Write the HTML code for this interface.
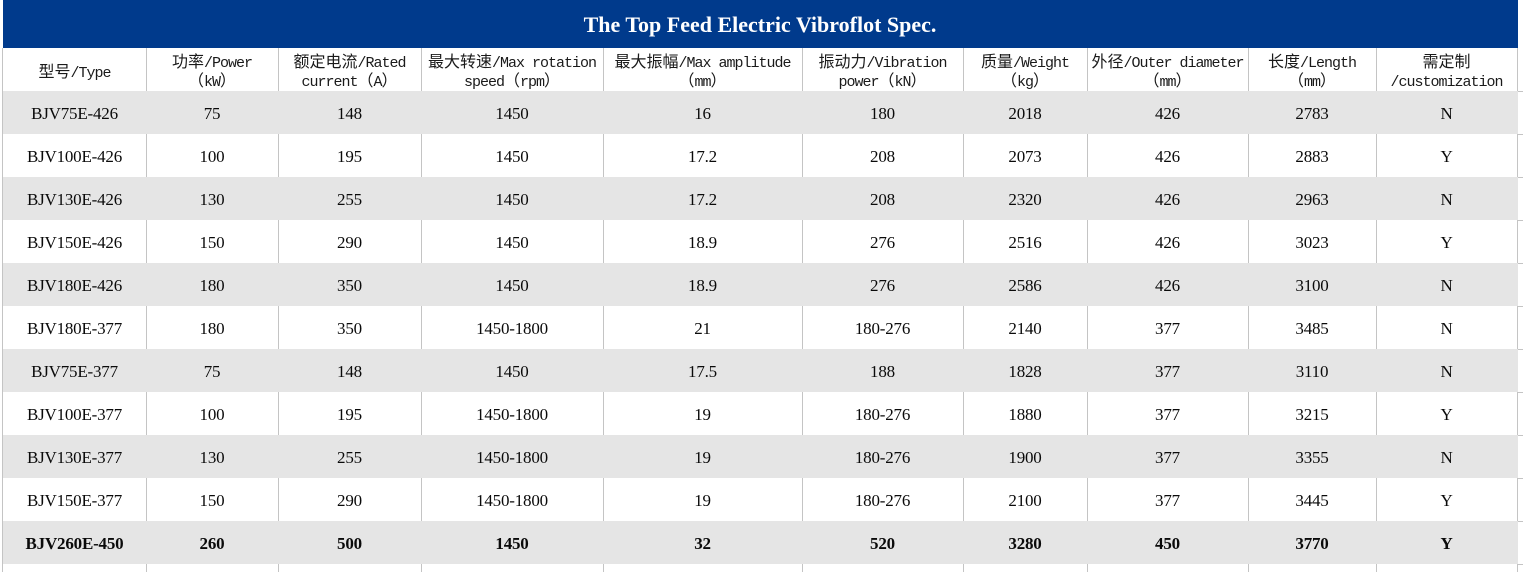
<!DOCTYPE html>
<html>
<head>
<meta charset="utf-8">
<style>
html,body{margin:0;padding:0;background:#fff;}
body{width:1523px;height:572px;overflow:hidden;}
svg{display:block;}
.d{font-family:"Liberation Serif","Noto Serif CJK SC",serif;font-size:17px;letter-spacing:-0.2px;fill:#0a0a0a;}
.b{font-weight:bold;}
.cj{font-family:"Noto Sans CJK SC","WenQuanYi Zen Hei",sans-serif;font-size:16px;letter-spacing:0;}
.mo{font-family:"Liberation Mono",monospace;font-size:15px;letter-spacing:-1px;}
.h{fill:#1a1a1a;}
</style>
</head>
<body>
<svg width="1523" height="572" viewBox="0 0 1523 572" xmlns="http://www.w3.org/2000/svg">
<rect x="0" y="0" width="1523" height="572" fill="#ffffff"/>
<!-- title -->
<rect x="3" y="0" width="1515" height="48" fill="#003a8c"/>
<text x="760" y="32" text-anchor="middle" font-family="Liberation Serif, serif" font-weight="bold" font-size="22" fill="#ffffff">The Top Feed Electric Vibroflot Spec.</text>

<!-- vertical grid lines -->
<g fill="#c4c4c4">
<rect x="2" y="48" width="1" height="524"/>
<rect x="146" y="48" width="1" height="524"/>
<rect x="278" y="48" width="1" height="524"/>
<rect x="421" y="48" width="1" height="524"/>
<rect x="603" y="48" width="1" height="524"/>
<rect x="802" y="48" width="1" height="524"/>
<rect x="963" y="48" width="1" height="524"/>
<rect x="1087" y="48" width="1" height="524"/>
<rect x="1248" y="48" width="1" height="524"/>
<rect x="1376" y="48" width="1" height="524"/>
<rect x="1517" y="48" width="1" height="524"/>
<rect x="1518" y="91" width="5" height="1"/>
<rect x="1518" y="134" width="5" height="1"/>
<rect x="1518" y="177" width="5" height="1"/>
<rect x="1518" y="220" width="5" height="1"/>
<rect x="1518" y="263" width="5" height="1"/>
<rect x="1518" y="306" width="5" height="1"/>
<rect x="1518" y="349" width="5" height="1"/>
<rect x="1518" y="392" width="5" height="1"/>
<rect x="1518" y="435" width="5" height="1"/>
<rect x="1518" y="478" width="5" height="1"/>
<rect x="1518" y="521" width="5" height="1"/>
<rect x="1518" y="564" width="5" height="1"/>
</g>

<!-- gray rows -->
<g fill="#e5e5e5">
<rect x="3" y="91" width="1515" height="43"/>
<rect x="3" y="177" width="1515" height="43"/>
<rect x="3" y="263" width="1515" height="43"/>
<rect x="3" y="349" width="1515" height="43"/>
<rect x="3" y="435" width="1515" height="43"/>
<rect x="3" y="521" width="1515" height="43"/>
</g>

<!-- header -->
<g class="h">
<text x="74.5" y="77" text-anchor="middle"><tspan class="cj">型号</tspan><tspan class="mo">/Type</tspan></text>

<text x="212" y="67" text-anchor="middle"><tspan class="cj">功率</tspan><tspan class="mo">/Power</tspan></text>
<text x="212" y="86" text-anchor="middle"><tspan class="cj">（</tspan><tspan class="mo">kW</tspan><tspan class="cj">）</tspan></text>

<text x="349.5" y="67" text-anchor="middle"><tspan class="cj">额定电流</tspan><tspan class="mo">/Rated</tspan></text>
<text x="349.5" y="86" text-anchor="middle"><tspan class="mo">current</tspan><tspan class="cj">（</tspan><tspan class="mo">A</tspan><tspan class="cj">）</tspan></text>

<text x="512" y="67" text-anchor="middle"><tspan class="cj">最大转速</tspan><tspan class="mo">/Max rotation</tspan></text>
<text x="512" y="86" text-anchor="middle"><tspan class="mo">speed</tspan><tspan class="cj">（</tspan><tspan class="mo">rpm</tspan><tspan class="cj">）</tspan></text>

<text x="702.5" y="67" text-anchor="middle"><tspan class="cj">最大振幅</tspan><tspan class="mo">/Max amplitude</tspan></text>
<text x="702.5" y="86" text-anchor="middle"><tspan class="cj">（</tspan><tspan class="mo">mm</tspan><tspan class="cj">）</tspan></text>

<text x="882.5" y="67" text-anchor="middle"><tspan class="cj">振动力</tspan><tspan class="mo">/Vibration</tspan></text>
<text x="882.5" y="86" text-anchor="middle"><tspan class="mo">power</tspan><tspan class="cj">（</tspan><tspan class="mo">kN</tspan><tspan class="cj">）</tspan></text>

<text x="1025" y="67" text-anchor="middle"><tspan class="cj">质量</tspan><tspan class="mo">/Weight</tspan></text>
<text x="1025" y="86" text-anchor="middle"><tspan class="cj">（</tspan><tspan class="mo">kg</tspan><tspan class="cj">）</tspan></text>

<text x="1167.5" y="67" text-anchor="middle"><tspan class="cj">外径</tspan><tspan class="mo">/Outer diameter</tspan></text>
<text x="1167.5" y="86" text-anchor="middle"><tspan class="cj">（</tspan><tspan class="mo">mm</tspan><tspan class="cj">）</tspan></text>

<text x="1312" y="67" text-anchor="middle"><tspan class="cj">长度</tspan><tspan class="mo">/Length</tspan></text>
<text x="1312" y="86" text-anchor="middle"><tspan class="cj">（</tspan><tspan class="mo">mm</tspan><tspan class="cj">）</tspan></text>

<text x="1446.5" y="67" text-anchor="middle"><tspan class="cj">需定制</tspan></text>
<text x="1446.5" y="86" text-anchor="middle"><tspan class="mo">/customization</tspan></text>
</g>

<!-- data rows -->
<g class="d" text-anchor="middle">
<text x="74.5" y="119">BJV75E-426</text><text x="212" y="119">75</text><text x="349.5" y="119">148</text><text x="512" y="119">1450</text><text x="702.5" y="119">16</text><text x="882.5" y="119">180</text><text x="1025" y="119">2018</text><text x="1167.5" y="119">426</text><text x="1312" y="119">2783</text><text x="1446.5" y="119">N</text>
<text x="74.5" y="162">BJV100E-426</text><text x="212" y="162">100</text><text x="349.5" y="162">195</text><text x="512" y="162">1450</text><text x="702.5" y="162">17.2</text><text x="882.5" y="162">208</text><text x="1025" y="162">2073</text><text x="1167.5" y="162">426</text><text x="1312" y="162">2883</text><text x="1446.5" y="162">Y</text>
<text x="74.5" y="205">BJV130E-426</text><text x="212" y="205">130</text><text x="349.5" y="205">255</text><text x="512" y="205">1450</text><text x="702.5" y="205">17.2</text><text x="882.5" y="205">208</text><text x="1025" y="205">2320</text><text x="1167.5" y="205">426</text><text x="1312" y="205">2963</text><text x="1446.5" y="205">N</text>
<text x="74.5" y="248">BJV150E-426</text><text x="212" y="248">150</text><text x="349.5" y="248">290</text><text x="512" y="248">1450</text><text x="702.5" y="248">18.9</text><text x="882.5" y="248">276</text><text x="1025" y="248">2516</text><text x="1167.5" y="248">426</text><text x="1312" y="248">3023</text><text x="1446.5" y="248">Y</text>
<text x="74.5" y="291">BJV180E-426</text><text x="212" y="291">180</text><text x="349.5" y="291">350</text><text x="512" y="291">1450</text><text x="702.5" y="291">18.9</text><text x="882.5" y="291">276</text><text x="1025" y="291">2586</text><text x="1167.5" y="291">426</text><text x="1312" y="291">3100</text><text x="1446.5" y="291">N</text>
<text x="74.5" y="334">BJV180E-377</text><text x="212" y="334">180</text><text x="349.5" y="334">350</text><text x="512" y="334">1450-1800</text><text x="702.5" y="334">21</text><text x="882.5" y="334">180-276</text><text x="1025" y="334">2140</text><text x="1167.5" y="334">377</text><text x="1312" y="334">3485</text><text x="1446.5" y="334">N</text>
<text x="74.5" y="377">BJV75E-377</text><text x="212" y="377">75</text><text x="349.5" y="377">148</text><text x="512" y="377">1450</text><text x="702.5" y="377">17.5</text><text x="882.5" y="377">188</text><text x="1025" y="377">1828</text><text x="1167.5" y="377">377</text><text x="1312" y="377">3110</text><text x="1446.5" y="377">N</text>
<text x="74.5" y="420">BJV100E-377</text><text x="212" y="420">100</text><text x="349.5" y="420">195</text><text x="512" y="420">1450-1800</text><text x="702.5" y="420">19</text><text x="882.5" y="420">180-276</text><text x="1025" y="420">1880</text><text x="1167.5" y="420">377</text><text x="1312" y="420">3215</text><text x="1446.5" y="420">Y</text>
<text x="74.5" y="463">BJV130E-377</text><text x="212" y="463">130</text><text x="349.5" y="463">255</text><text x="512" y="463">1450-1800</text><text x="702.5" y="463">19</text><text x="882.5" y="463">180-276</text><text x="1025" y="463">1900</text><text x="1167.5" y="463">377</text><text x="1312" y="463">3355</text><text x="1446.5" y="463">N</text>
<text x="74.5" y="506">BJV150E-377</text><text x="212" y="506">150</text><text x="349.5" y="506">290</text><text x="512" y="506">1450-1800</text><text x="702.5" y="506">19</text><text x="882.5" y="506">180-276</text><text x="1025" y="506">2100</text><text x="1167.5" y="506">377</text><text x="1312" y="506">3445</text><text x="1446.5" y="506">Y</text>
<g class="b">
<text x="74.5" y="549">BJV260E-450</text><text x="212" y="549">260</text><text x="349.5" y="549">500</text><text x="512" y="549">1450</text><text x="702.5" y="549">32</text><text x="882.5" y="549">520</text><text x="1025" y="549">3280</text><text x="1167.5" y="549">450</text><text x="1312" y="549">3770</text><text x="1446.5" y="549">Y</text>
</g>
</g>
</svg>
</body>
</html>
